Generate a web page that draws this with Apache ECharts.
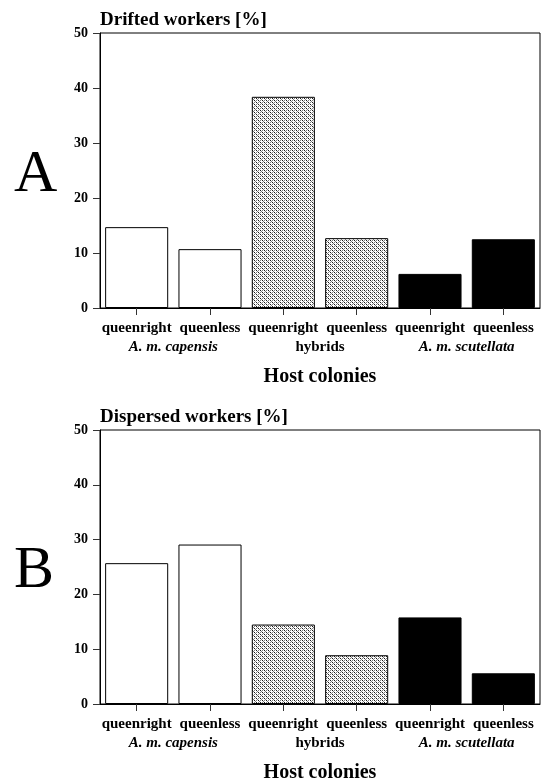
<!DOCTYPE html>
<html><head><meta charset="utf-8">
<script src="https://cdn.jsdelivr.net/npm/echarts@6/dist/echarts.min.js"></script>
<style>html,body{margin:0;padding:0;background:#fff}#c{width:545px;height:784px}</style>
</head><body><div id="c"></div>
<script>
const categories = ['queenright','queenless','queenright','queenless','queenright','queenless'];
const groups = ['A. m. capensis','hybrids','A. m. scutellata'];
const groupItalic = [true, false, true];
const drifted = [14.7, 10.7, 38.4, 12.7, 6.2, 12.5];
const dispersed = [25.7, 29.1, 14.5, 8.9, 15.8, 5.6];
const panelTitles = ['Drifted workers [%]', 'Dispersed workers [%]'];
const panelLetters = ['A', 'B'];
const xTitle = 'Host colonies';

// hatch pattern
const pc = document.createElement('canvas');
pc.width = 8; pc.height = 8;
const g = pc.getContext('2d');
g.fillStyle = '#fff'; g.fillRect(0,0,8,8);
for (let x=0;x<8;x++) for (let y=0;y<8;y++){
  const s = (x + y) % 4;
  if (s === 0) { g.fillStyle = '#7f7f7f'; g.fillRect(x,y,1,1); }
  else if (s === 2 && x % 2 === 0) { g.fillStyle = '#1a1a1a'; g.fillRect(x,y,1,1); }
}
const groupFills = ['#ffffff', {image: pc, repeat: 'repeat'}, '#000000'];

const FONT = '"Liberation Serif","Times New Roman",serif';
const chart = echarts.init(document.getElementById('c'), null, {renderer:'canvas'});

const grids = [{left:100, right:5, top:33, height:275}, {left:100, right:5, top:430, height:274}];
const xAxes = [], yAxes = [], series = [];
[drifted, dispersed].forEach((vals, i) => {
  xAxes.push({
    type:'category', gridIndex:i, data:categories, position:'bottom',
    axisLine:{show:true, lineStyle:{color:'#000', width:1}},
    axisTick:{show:true, alignWithLabel:true, length:7, lineStyle:{color:'#333'}},
    axisLabel:{fontFamily:FONT, fontWeight:'bold', fontSize:15, color:'#000', margin:13, interval:0}
  });
  xAxes.push({
    type:'category', gridIndex:i, data:groups, position:'bottom', offset:19,
    axisLine:{show:false}, axisTick:{show:false},
    axisLabel:{fontFamily:FONT, fontWeight:'bold', fontSize:15, color:'#000', margin:13, interval:0,
      formatter:(v, idx) => groupItalic[idx] ? '{i|' + v + '}' : '{n|' + v + '}',
      rich:{i:{fontFamily:FONT, fontWeight:'bold', fontStyle:'italic', fontSize:15, color:'#000'},
            n:{fontFamily:FONT, fontWeight:'bold', fontSize:15, color:'#000'}}},
    name: xTitle, nameLocation:'middle', nameGap:40,
    nameTextStyle:{fontFamily:FONT, fontWeight:'bold', fontSize:20, color:'#000'}
  });
  yAxes.push({
    type:'value', gridIndex:i, min:0, max:50, interval:10,
    name: panelTitles[i], nameLocation:'end', nameGap:3,
    nameTextStyle:{fontFamily:FONT, fontWeight:'bold', fontSize:19, color:'#000', align:'left'},
    axisLine:{show:true, lineStyle:{color:'#000', width:1}},
    axisTick:{show:true, length:7, lineStyle:{color:'#333'}},
    axisLabel:{fontFamily:FONT, fontWeight:'bold', fontSize:14, color:'#000', margin:12},
    splitLine:{show:false}
  });
  series.push({
    type:'bar', xAxisIndex:i*2, yAxisIndex:i, barWidth:'86%',
    data: vals.map((v, k) => ({value:v, itemStyle:{color: groupFills[Math.floor(k/2)]}})),
    itemStyle:{borderColor:'#000', borderWidth:1},
    silent:true, animation:false
  });
});

chart.setOption({
  animation:false,
  grid: grids.map(gr => Object.assign({show:true, borderColor:'#000', borderWidth:1, backgroundColor:'transparent'}, gr)),
  xAxis: xAxes, yAxis: yAxes, series: series,
  graphic: panelLetters.map((t, i) => ({
    type:'text', left: 14, top: i === 0 ? 145 : 541,
    style:{text:t, font:'normal 60px ' + FONT, fill:'#000'}
  }))
});
</script></body></html>
